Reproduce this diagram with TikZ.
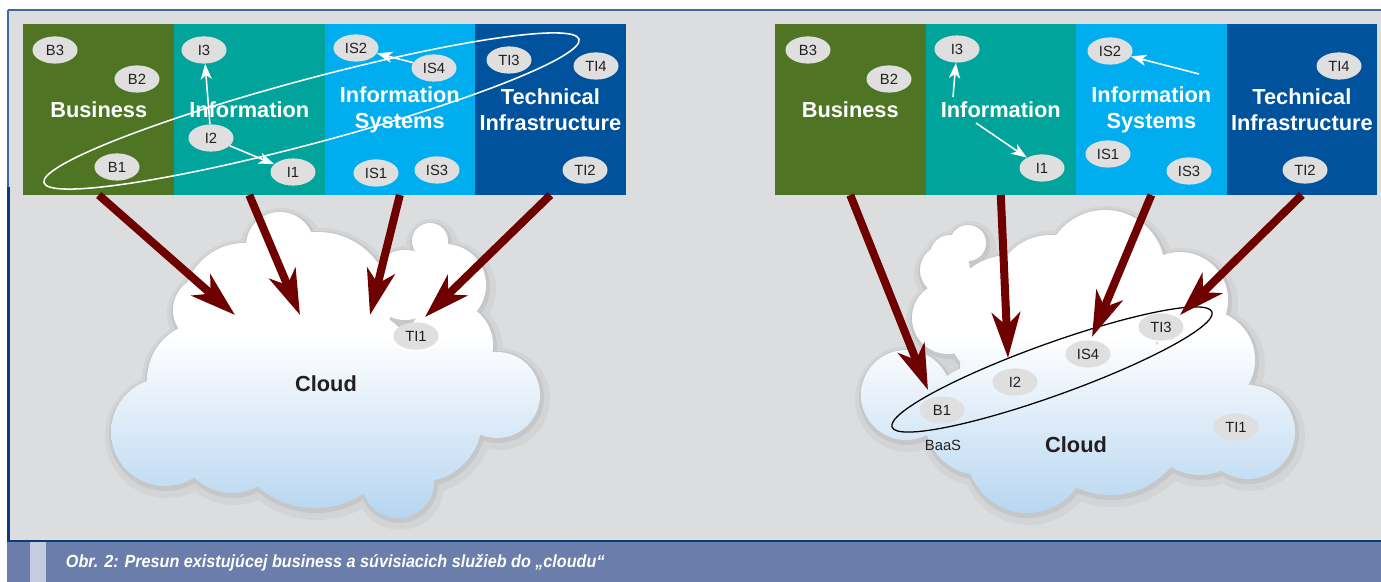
\documentclass[tikz,border=0pt]{standalone}
\usepackage{fontspec}
\setmainfont{Liberation Sans}
\newfontfamily\capfont[FakeStretch=0.92]{Liberation Sans}
\usetikzlibrary{arrows.meta,positioning,shapes.geometric}

\definecolor{bggray}{HTML}{DCDDDF}
\definecolor{busgreen}{HTML}{4E7424}
\definecolor{infoteal}{HTML}{00A49A}
\definecolor{sysblue}{HTML}{00AEEF}
\definecolor{techblue}{HTML}{00529C}
\definecolor{bubblegray}{HTML}{DFDFE0}
\definecolor{arrred}{HTML}{6E0000}
\definecolor{cloudblue}{HTML}{B3D4F0}
\definecolor{framenavy}{HTML}{0B3A78}
\definecolor{framethin}{HTML}{3F6AA5}
\definecolor{capbar}{HTML}{6B7DAB}
\definecolor{capstripe}{HTML}{C6CCE0}
\definecolor{txtdark}{HTML}{231F20}

\begin{document}
\begin{tikzpicture}[x=0.025cm, y=-0.025cm,
    column/.style={minimum width=3.7625cm, minimum height=4.275cm, inner sep=0pt, outer sep=0pt,
        text=white, align=center, font=\fontsize{15.5}{18.5}\selectfont\bfseries},
    bubble/.style={ellipse, fill=bubblegray, minimum width=1.125cm, minimum height=0.68cm,
        inner sep=0pt, text=txtdark, font=\fontsize{10.5}{12}\selectfont},
    redarr/.style={draw=arrred, line width=5.7pt, -{Stealth[length=32pt,width=20pt,inset=9pt]}},
    whitearr/.style={draw=white, line width=1.1pt, -{Stealth[length=11pt,width=8pt,inset=3pt]}},
    cloudlab/.style={text=txtdark, font=\fontsize{15.5}{18}\selectfont\bfseries}]
    \useasboundingbox (0,0) rectangle (1381,582);
    % page and frame
    \fill[white] (0,0) rectangle (1381,582);
    \fill[bggray] (8,10) rectangle (1381,541);
    \draw[framethin, line width=1pt] (8,10) -- (1381,10);
    \draw[framethin, line width=1pt] (8,10) -- (8,187);
    \draw[framenavy, line width=2.2pt] (8.5,187) -- (8.5,541);
    \draw[framenavy, line width=1.5pt] (7,541) -- (1381,541);
    \fill[capbar] (7,542) rectangle (1381,582);
    \fill[capstripe] (30,542) rectangle (46,582);

    % columns, left
    \node[column, fill=busgreen] (lbus) at (98.75,109.5) {Business};
    \node[column, fill=infoteal, right=0pt of lbus] (linfo) {Information};
    \node[column, fill=sysblue, right=0pt of linfo] (lsys) {Information\\Systems};
    \node[column, fill=techblue, right=0pt of lsys] (ltech) {Technical\\Infrastructure};
    % columns, right
    \node[column, fill=busgreen] (rbus) at (850.25,109.5) {Business};
    \node[column, fill=infoteal, right=0pt of rbus] (rinfo) {Information};
    \node[column, fill=sysblue, right=0pt of rinfo] (rsys) {Information\\Systems};
    \node[column, fill=techblue, right=0pt of rsys] (rtech) {Technical\\Infrastructure};

    % services in the columns
    \foreach \nm/\lab/\px/\py in {lb3/B3/55/50, lb2/B2/137/79, lb1/B1/117/167, li3/I3/204/50,
        li2/I2/211/138, li1/I1/293/172, lis2/IS2/356/48, lis4/IS4/434/68, lis1/IS1/376/173,
        lis3/IS3/437/170, lti3/TI3/509/60, lti4/TI4/596/66, lti2/TI2/585/170,
        rb3/B3/808/50, rb2/B2/889/79, ri3/I3/957/49, ri1/I1/1042/168, ris2/IS2/1110/51,
        ris1/IS1/1108/154, ris3/IS3/1189/171, rti4/TI4/1339/66, rti2/TI2/1305/170}
        \node[bubble] (\nm) at (\px,\py) {\lab};

    % dependencies
    \draw[whitearr] (li2) -- (li3);
    \draw[whitearr] (li2) -- (li1);
    \draw[whitearr] (lis4) -- (lis2);
    \coordinate (rw1) at (953,97);
    \coordinate (rw2) at (976,123);
    \coordinate (rw3) at (1199,74);
    \draw[whitearr] (rw1) -- (ri3);
    \draw[whitearr] (rw2) -- (ri1);
    \draw[whitearr] (rw3) -- (ris2);
    \draw[white, line width=1.1pt, rotate around={15:(311.5,111)}] (311.5,111) ellipse [x radius=277, y radius=32];

    % left cloud
    \fill[black, opacity=0.04] \foreach \cx/\cy/\r in {280/246/34, 318/305/73, 245/305/62, 207/310/34, 205/380/58, 165/432/54, 232/440/53, 315/420/88, 398/482/36, 420/420/62, 497/395/43, 450/345/43, 445/285/41, 430/241/18, 405/285/35, 330/400/100} {(\cx+2,\cy+4) circle[radius=\r+8]};
    \fill[black, opacity=0.06] \foreach \cx/\cy/\r in {280/246/34, 318/305/73, 245/305/62, 207/310/34, 205/380/58, 165/432/54, 232/440/53, 315/420/88, 398/482/36, 420/420/62, 497/395/43, 450/345/43, 445/285/41, 430/241/18, 405/285/35, 330/400/100} {(\cx+1,\cy+2) circle[radius=\r+3]};
    \begin{scope}
        \clip \foreach \cx/\cy/\r in {280/246/34, 318/305/73, 245/305/62, 207/310/34, 205/380/58, 165/432/54, 232/440/53, 315/420/88, 398/482/36, 420/420/62, 497/395/43, 450/345/43, 445/285/41, 430/241/18, 405/285/35, 330/400/100} {(\cx,\cy) circle[radius=\r]};
        \fill[white] (90,190) rectangle (560,335);
        \shade[top color=white, bottom color=cloudblue] (90,335) rectangle (560,525);
    \end{scope}
    % right cloud
    \fill[black, opacity=0.04] \foreach \cx/\cy/\r in {906/395/45, 948/318/36, 945/270/25, 950/255/20, 968/243/18, 1010/320/65, 1105/270/60, 1050/290/55, 1180/300/48, 1205/360/50, 1248/432/47, 1200/420/55, 1110/415/80, 1027/453/60, 980/420/55, 1060/370/100} {(\cx+2,\cy+4) circle[radius=\r+8]};
    \fill[black, opacity=0.06] \foreach \cx/\cy/\r in {906/395/45, 948/318/36, 945/270/25, 950/255/20, 968/243/18, 1010/320/65, 1105/270/60, 1050/290/55, 1180/300/48, 1205/360/50, 1248/432/47, 1200/420/55, 1110/415/80, 1027/453/60, 980/420/55, 1060/370/100} {(\cx+1,\cy+2) circle[radius=\r+3]};
    \begin{scope}
        \clip \foreach \cx/\cy/\r in {906/395/45, 948/318/36, 945/270/25, 950/255/20, 968/243/18, 1010/320/65, 1105/270/60, 1050/290/55, 1180/300/48, 1205/360/50, 1248/432/47, 1200/420/55, 1110/415/80, 1027/453/60, 980/420/55, 1060/370/100} {(\cx,\cy) circle[radius=\r]};
        \fill[white] (850,190) rectangle (1300,335);
        \shade[top color=white, bottom color=cloudblue] (850,335) rectangle (1300,525);
    \end{scope}

    % scope of BaaS
    \draw[black, line width=0.9pt, rotate around={19.8:(1052,369.5)}] (1052,369.5) ellipse [x radius=170, y radius=26];

    % moving to the cloud
    \coordinate (lt1) at (235,315);
    \coordinate (lt2) at (300,315);
    \coordinate (lt3) at (370,315);
    \coordinate (lt4) at (425,317);
    \coordinate (rt1) at (928,390);
    \coordinate (rt2) at (1008,358);
    \coordinate (rt3) at (1092,337);
    \coordinate (rt4) at (1180,315);
    \draw[redarr] (lbus.south) -- (lt1);
    \draw[redarr] (linfo.south) -- (lt2);
    \draw[redarr] (lsys.south) -- (lt3);
    \draw[redarr] (ltech.south) -- (lt4);
    \draw[redarr] (rbus.south) -- (rt1);
    \draw[redarr] (rinfo.south) -- (rt2);
    \draw[redarr] (rsys.south) -- (rt3);
    \draw[redarr] (rtech.south) -- (rt4);

    % services in the clouds
    \foreach \nm/\lab/\px/\py in {lti1/TI1/416/336, rb1/B1/942/410, ri2/I2/1015/382,
        ris4/IS4/1088/354, rti3/TI3/1161/327, rti1/TI1/1236/427}
        \node[bubble] (\nm) at (\px,\py) {\lab};
    \node[cloudlab] (lcloud) at (326,384) {Cloud};
    \node[cloudlab] (rcloud) at (1076,445) {Cloud};
    \node[text=txtdark, font=\fontsize{10.5}{12}\selectfont] (baas) at (943,445) {BaaS};

    % caption
    \node[anchor=west, text=white, font=\capfont\fontsize{12.5}{14}\selectfont\bfseries\itshape] (caption) at (61,563)
        {Obr. 2: Presun existujúcej business a súvisiacich služieb do „cloudu“};
\end{tikzpicture}
\end{document}
